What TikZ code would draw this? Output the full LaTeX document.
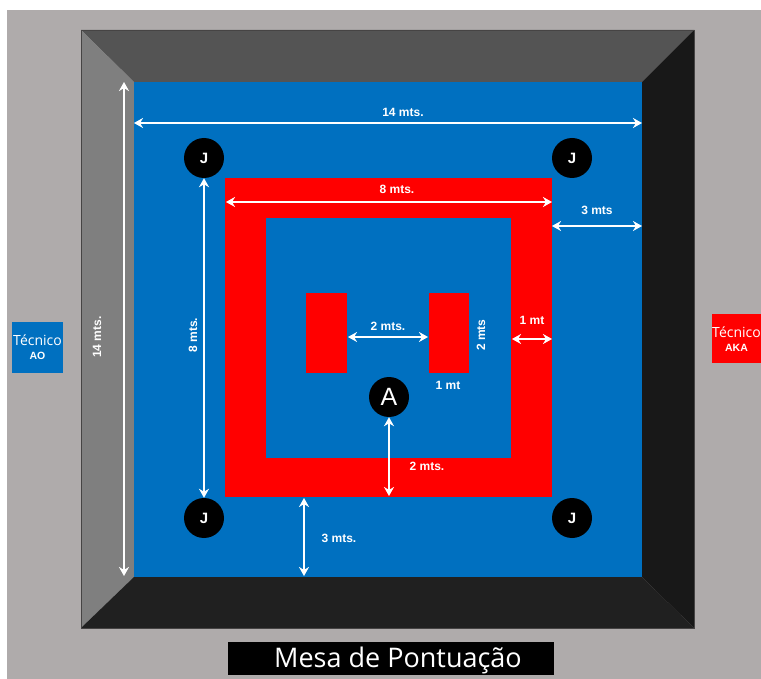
\documentclass[tikz,border=0pt]{standalone}
\usepackage{fontspec}
\usepackage{xcolor}
\setmainfont{Liberation Sans}
\newfontfamily\thinfont{Open Sans}
\usetikzlibrary{arrows.meta}
\definecolor{fondo}{HTML}{AFABAB}
\definecolor{azul}{HTML}{0070C0}
\definecolor{rojo}{HTML}{FF0000}
\definecolor{oscuro}{HTML}{545454}
\definecolor{medio}{HTML}{7F7F7F}
\definecolor{negro}{HTML}{181818}
\definecolor{negrob}{HTML}{202020}
\tikzset{
  medida/.style={{Stealth[length=9pt,width=10pt]}-{Stealth[length=9pt,width=10pt]}, line width=2.4pt, white},
  etiqueta/.style={white, font=\bfseries\fontsize{12}{14}\selectfont, inner sep=0pt},
  juez/.style={circle, fill=black, minimum size=40pt, inner sep=0pt, text=white, font=\bfseries\fontsize{15}{17}\selectfont},
  tecnico/.style={white, inner sep=0pt, align=center}
}
\begin{document}
\begin{tikzpicture}[x=1pt, y=-1pt]
                \useasboundingbox (0,0) rectangle (761,679);
                % Fondo
                \fill[fondo] (7,10) rectangle (761,679);
                % Marco
                \fill[oscuro] (81,30) -- (694,30) -- (642,82) -- (134,82) -- cycle;
                \fill[medio] (81,30) -- (134,82) -- (134,577) -- (81,628) -- cycle;
                \fill[negro] (694,30) -- (642,82) -- (642,577) -- (694,628) -- cycle;
                \fill[negrob] (81,628) -- (134,577) -- (642,577) -- (694,628) -- cycle;
                \draw[black!60!fondo, line width=0.8pt] (81,30) rectangle (694,628);
                % Area
                \fill[azul] (134,82) rectangle (642,577);
                \fill[rojo] (225,178) rectangle (552,497);
                \fill[azul] (266,218) rectangle (511,458);
                \fill[rojo] (306,293) rectangle (347,373);
                \fill[rojo] (429,293) rectangle (469,373);
                % Jueces
                \node[juez] (j1) at (204,158) {J};
                \node[juez] (j2) at (572,158) {J};
                \node[juez] (j3) at (204,518) {J};
                \node[juez] (j4) at (572,518) {J};
                \node[juez, font=\fontsize{25}{27}\selectfont] (arbitro) at (389,397) {A};
                % Extremos
                \coordinate (a1) at (124,82);
                \coordinate (a2) at (124,576);
                \coordinate (b1) at (134,123);
                \coordinate (b2) at (642,123);
                \coordinate (c1) at (226,202);
                \coordinate (c2) at (552,202);
                \coordinate (d1) at (552,226);
                \coordinate (d2) at (642,226);
                \coordinate (e1) at (512,339);
                \coordinate (e2) at (552,339);
                \coordinate (f1) at (348,337);
                \coordinate (f2) at (428,337);
                \coordinate (g1) at (304,498);
                \coordinate (g2) at (304,576);
                \coordinate (h1) at (389,496);
                % Medidas
                \draw[medida] (a1) -- (a2);
                \draw[medida] (b1) -- (b2);
                \draw[medida] (j1) -- (j3);
                \draw[medida] (c1) -- (c2);
                \draw[medida] (d1) -- (d2);
                \draw[medida] (e1) -- (e2);
                \draw[medida] (f1) -- (f2);
                \draw[medida] (arbitro) -- (h1);
                \draw[medida] (g1) -- (g2);
                % Textos
                \node[etiqueta] (t14a) at (403,112) {14 mts.};
                \node[etiqueta, rotate=90] (t14b) at (97,337) {14 mts.};
                \node[etiqueta] (t8a) at (397,189) {8 mts.};
                \node[etiqueta, rotate=90] (t8b) at (193,335) {8 mts.};
                \node[etiqueta] (t3a) at (597,210) {3 mts};
                \node[etiqueta] (t1a) at (532,320) {1 mt};
                \node[etiqueta] (t2a) at (388,326) {2 mts.};
                \node[etiqueta, rotate=90] (t2b) at (481,335) {2 mts};
                \node[etiqueta] (t1b) at (448,385) {1 mt};
                \node[etiqueta] (t2c) at (427,466) {2 mts.};
                \node[etiqueta] (t3b) at (339,538) {3 mts.};
                % Tecnicos
                \fill[azul] (12,322) rectangle (63,373);
                \fill[rojo] (712,314) rectangle (761,363);
                \node[tecnico] (ao) at (37.5,347) {{\thinfont\fontsize{14}{16}\selectfont T\'ecnico}\\[2pt]{\bfseries\fontsize{10.5}{11}\selectfont AO}};
                \node[tecnico] (aka) at (736.5,339) {{\thinfont\fontsize{14}{16}\selectfont T\'ecnico}\\[2pt]{\bfseries\fontsize{10.5}{11}\selectfont AKA}};
                % Mesa
                \fill[black] (228,642) rectangle (554,675);
                \node[white, inner sep=0pt, font=\thinfont\fontsize{27}{30}\selectfont] (mesa) at (398,660) {Mesa de Pontua\c{c}\~ao};
            \end{tikzpicture}
\end{document}
